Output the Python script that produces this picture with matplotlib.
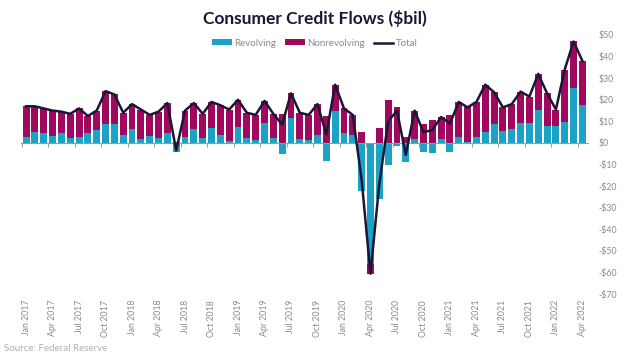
import matplotlib
matplotlib.use("Agg")
import matplotlib.pyplot as plt
import numpy as np
from matplotlib.patches import Patch
from matplotlib.lines import Line2D

plt.rcParams['font.family'] = ['Lato', 'DejaVu Sans']

months = ["Jan 2017", "Feb 2017", "Mar 2017", "Apr 2017", "May 2017", "Jun 2017",
          "Jul 2017", "Aug 2017", "Sep 2017", "Oct 2017", "Nov 2017", "Dec 2017",
          "Jan 2018", "Feb 2018", "Mar 2018", "Apr 2018", "May 2018", "Jun 2018",
          "Jul 2018", "Aug 2018", "Sep 2018", "Oct 2018", "Nov 2018", "Dec 2018",
          "Jan 2019", "Feb 2019", "Mar 2019", "Apr 2019", "May 2019", "Jun 2019",
          "Jul 2019", "Aug 2019", "Sep 2019", "Oct 2019", "Nov 2019", "Dec 2019",
          "Jan 2020", "Feb 2020", "Mar 2020", "Apr 2020", "May 2020", "Jun 2020",
          "Jul 2020", "Aug 2020", "Sep 2020", "Oct 2020", "Nov 2020", "Dec 2020",
          "Jan 2021", "Feb 2021", "Mar 2021", "Apr 2021", "May 2021", "Jun 2021",
          "Jul 2021", "Aug 2021", "Sep 2021", "Oct 2021", "Nov 2021", "Dec 2021",
          "Jan 2022", "Feb 2022", "Mar 2022", "Apr 2022"]

revolving = [3, 5, 4.5, 3.2, 4.5, 2.3, 3, 4.5, 6, 8.6, 8.8, 3.7,
             6.3, 1.7, 3.2, 2.2, 4.8, -4, 2.9, 6.3, 2.2, 7, 3.7, 1.1,
             7.6, 2.2, 1.4, 9.4, 2.2, -5, 11.4, 1.7, 1.4, 3.7, -8.5, 14.8,
             4.5, 3.7, -22, -56, -26, -10, -1.4, -8.6, 2, -4, -4.7, 1.8,
             -4, 2.9, 0.6, 2.6, 5.2, 8.8, 5.6, 6.3, 9.1, 9.1, 15.3, 7.9,
             7.9, 9.9, 25.5, 17.8]

nonrevolving = [14, 12, 11.5, 11.8, 10, 11.2, 13, 8, 9, 15.4, 13.7, 10.3,
                11.7, 13.8, 9.8, 12.3, 13.7, 0.5, 12.1, 12.2, 11.3, 12, 13.8, 14.4,
                12.4, 11.8, 11.6, 10.1, 11.3, 13.5, 11.6, 12.3, 11.6, 14.3, 12.5, 12.2,
                11.5, 9.3, 5, -4.5, 7, 20, 16.5, 3, 13, 9, 10.7, 10.2,
                13, 16.1, 15.9, 16.4, 21.8, 14.7, 10.9, 11.7, 14.7, 12.4, 16.7, 15.1,
                7.6, 24.1, 21.5, 20.2]

total = [17, 17, 16, 15, 14.5, 13.5, 16, 12.5, 15, 24, 22.5, 14,
         18, 15.5, 13, 14.5, 18.5, -3.5, 15, 18.5, 13.5, 19, 17.5, 15.5,
         20, 14, 13, 19.5, 13.5, 8.5, 23, 14, 13, 18, 4, 27,
         16, 13, -17, -60.5, -19, 10, 15, -5.5, 15, 5, 6, 12,
         9, 19, 16.5, 19, 27, 23.5, 16.5, 18, 23.8, 21.5, 32, 23,
         15.5, 34, 47, 38]

y_ticks = [50, 40, 30, 20, 10, 0, -10, -20, -30, -40, -50, -60, -70]
y_labels = ["$50", "$40", "$30", "$20", "$10", "$0", "-$10", "-$20", "-$30",
            "-$40", "-$50", "-$60", "-$70"]

TEAL = "#1aa3c6"
MAGENTA = "#a0085e"
NAVY = "#1b1636"
GRAY = "#8a8a8a"

fig = plt.figure(figsize=(6.24, 3.56), dpi=100)
ax = fig.add_axes([0.0333, 0.1736, 0.9085, 0.7281])

x = np.arange(len(months))
rev = np.array(revolving, dtype=float)
non = np.array(nonrevolving, dtype=float)

# stacking: positives up from 0, negatives down from 0
rev_bottom = np.zeros_like(rev)
non_bottom = np.where((non >= 0) == (rev >= 0), rev, 0.0)

w = 0.78
ax.bar(x, rev, width=w, bottom=rev_bottom, color=TEAL, zorder=2)
ax.bar(x, non, width=w, bottom=non_bottom, color=MAGENTA, zorder=2)
ax.plot(x, total, color=NAVY, lw=1.8, zorder=3, solid_joinstyle='round')

ax.set_xlim(-0.6, len(months) - 0.4)
ax.set_ylim(-70, 50)

for s in ['top', 'left', 'right']:
    ax.spines[s].set_visible(False)
ax.spines['bottom'].set_position(('data', 0))
ax.spines['bottom'].set_color('#9a9a9a')
ax.spines['bottom'].set_linewidth(0.8)
ax.spines['bottom'].set_zorder(2.5)

# tick marks at category boundaries on the zero line
ax.set_xticks(np.arange(-0.5, len(months), 3))
ax.tick_params(axis='x', length=3, width=0.7, color='#9a9a9a', labelbottom=False)

# labels at the bottom of the axes
sec = ax.secondary_xaxis('bottom')
sec.set_xticks(x[::3], [months[i] for i in range(0, len(months), 3)])
sec.tick_params(length=0, labelsize=6.3, labelcolor=GRAY, pad=4, labelrotation=90)
sec.spines['bottom'].set_visible(False)

ax.yaxis.tick_right()
ax.set_yticks(y_ticks, y_labels)
ax.tick_params(axis='y', length=0, labelsize=6.3, labelcolor=GRAY, pad=8)

fig.text(0.505, 0.947, "Consumer Credit Flows ($bil)", ha='center', va='center',
         fontsize=12.5, fontweight='bold', color=NAVY)

handles = [Patch(facecolor=TEAL, edgecolor='none'),
           Patch(facecolor=MAGENTA, edgecolor='none'),
           Line2D([0], [0], color=NAVY, lw=1.8)]
leg = fig.legend(handles, ["Revolving", "Nonrevolving", "Total"], loc='center',
                 bbox_to_anchor=(0.505, 0.879), ncol=3, frameon=False,
                 fontsize=7, handlelength=2.0, handleheight=0.45,
                 handletextpad=0.3, columnspacing=0.9)
for t in leg.get_texts():
    t.set_color(GRAY)

fig.text(0.006, 0.02, "Source: Federal Reserve", ha='left', va='center',
         fontsize=7, color='#b0b0b0')

fig.savefig("out.png", dpi=100)
